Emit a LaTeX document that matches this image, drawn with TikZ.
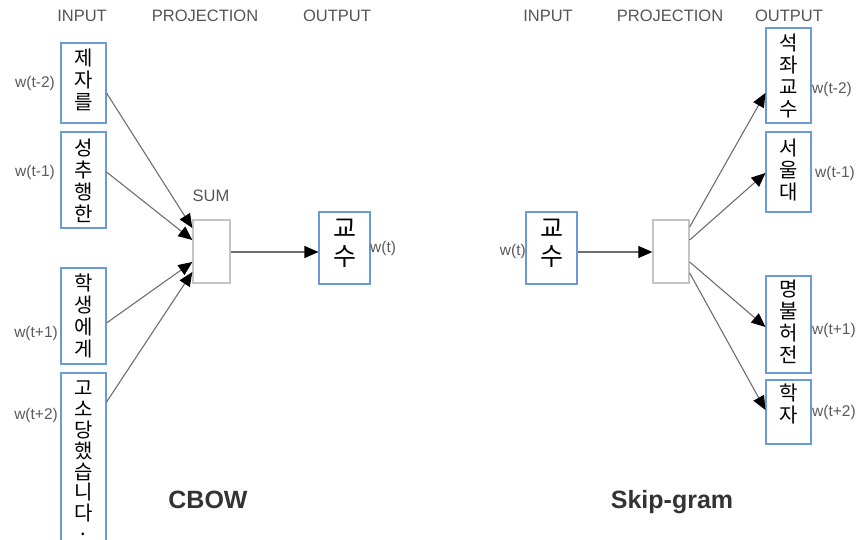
\documentclass[tikz,border=0pt]{standalone}
\usepackage{fontspec}
\setmainfont{Liberation Sans}
\newfontfamily\kr{Noto Sans CJK KR}
\usetikzlibrary{arrows.meta,calc}
\definecolor{boxblue}{HTML}{6A9BD8}
\definecolor{hdr}{HTML}{555555}
\definecolor{lblc}{HTML}{5A5A5A}
\definecolor{projc}{HTML}{C4C4C4}
\definecolor{linec}{HTML}{6E6E6E}
\tikzset{
  wbox/.style={draw=boxblue, line width=1.1pt, minimum width=45pt, inner sep=0pt},
  obox/.style={draw=boxblue, line width=1.1pt, minimum width=51pt, minimum height=72pt, inner sep=0pt},
  pbox/.style={draw=projc, line width=1.3pt, inner sep=0pt},
  ktxt/.style={font=\kr\fontsize{20}{22}\selectfont, align=center, inner sep=0pt, text=black},
  kbig/.style={font=\kr\fontsize{25}{28}\selectfont, align=center, inner sep=0pt, text=black},
  hdrtxt/.style={font=\fontsize{16.5}{18}\selectfont, text=hdr, inner sep=0pt},
  wlbl/.style={font=\fontsize{15.5}{17}\selectfont, text=lblc, inner sep=0pt},
  title/.style={font=\bfseries\fontsize{25}{28}\selectfont, text=black!80, inner sep=0pt},
  arr/.style={draw=linec, line width=1.1pt, -{Triangle[length=14pt,width=12pt,color=black]}}
}
\begin{document}
\begin{tikzpicture}[x=1pt,y=-1pt]
\useasboundingbox (0,0) rectangle (859,539);
\clip (0,0) rectangle (859,539);
% ---------- CBOW ----------
\node[hdrtxt] (h1) at (82,16) {INPUT};
\node[hdrtxt] (h2) at (205,16) {PROJECTION};
\node[hdrtxt] (h3) at (337,16) {OUTPUT};

\node[wbox, minimum height=80pt] (i1) at (83.5,83) {};
\node[ktxt] (i1t) at (83.5,80) {제\\자\\를};
\node[wbox, minimum height=96pt] (i2) at (83.5,180) {};
\node[ktxt] (i2t) at (83.5,181) {성\\추\\행\\한};
\node[wbox, minimum height=96pt] (i3) at (83.5,316) {};
\node[ktxt] (i3t) at (83.5,316) {학\\생\\에\\게};
\node[wbox, minimum height=197pt] (i4) at (83.5,471.5) {};
\node[ktxt, font=\kr\fontsize{20}{20.8}\selectfont, anchor=north] (i4t) at (83.5,381) {고\\소\\당\\했\\습\\니\\다\\[-6pt].};

\node[wlbl, anchor=east] (l1) at (55,83) {w(t-2)};
\node[wlbl, anchor=east] (l2) at (55,172) {w(t-1)};
\node[wlbl, anchor=east] (l3) at (58,333) {w(t+1)};
\node[wlbl, anchor=east] (l4) at (58,415) {w(t+2)};

\node[hdrtxt] (sumlbl) at (211,196) {SUM};
\node[pbox, minimum width=37pt, minimum height=63pt] (sum) at (211.5,251.5) {};

\node[obox] (o) at (344.5,248) {};
\node[kbig] (ot) at (344.5,243) {교\\수};
\node[wlbl, anchor=west] (lo) at (370,248) {w(t)};

\draw[arr] ($(i1.east)+(0,10)$) -- ($(sum.west)+(0,-23.5)$);
\draw[arr] ($(i2.east)+(0,-8)$) -- ($(sum.west)+(0,-11.5)$);
\draw[arr] ($(i3.east)+(0,7)$) -- ($(sum.west)+(0,10.5)$);
\draw[arr] ($(i4.east)+(0,-69.5)$) -- ($(sum.west)+(0,20.5)$);
\draw[arr] ($(sum.east)+(0,0.5)$) -- ($(o.west)+(0,4)$);

\node[title] (cbow) at (208,500) {CBOW};

% ---------- Skip-gram ----------
\node[hdrtxt] (g1) at (548,16) {INPUT};
\node[hdrtxt] (g2) at (670,16) {PROJECTION};
\node[hdrtxt] (g3) at (789,16) {OUTPUT};

\node[obox] (si) at (551.5,248) {};
\node[kbig] (sit) at (551.5,243) {교\\수};
\node[wlbl, anchor=east] (lsi) at (526,251) {w(t)};

\node[pbox, minimum width=36pt, minimum height=63pt] (sp) at (671,251.5) {};

\node[wbox, minimum height=95pt] (so1) at (788.5,75.5) {};
\node[ktxt] (so1t) at (788.5,76) {석\\좌\\교\\수};
\node[wbox, minimum height=80pt] (so2) at (788.5,172) {};
\node[ktxt] (so2t) at (788.5,170) {서\\울\\대};
\node[wbox, minimum height=97pt] (so3) at (788.5,324.5) {};
\node[ktxt] (so3t) at (788.5,322) {명\\불\\허\\전};
\node[wbox, minimum height=64pt] (so4) at (788.5,412) {};
\node[ktxt] (so4t) at (788.5,404) {학\\자};

\node[wlbl, anchor=west] (m1) at (812,89) {w(t-2)};
\node[wlbl, anchor=west] (m2) at (815,173) {w(t-1)};
\node[wlbl, anchor=west] (m3) at (812,330) {w(t+1)};
\node[wlbl, anchor=west] (m4) at (812,412) {w(t+2)};

\draw[arr] ($(si.east)+(0,4)$) -- ($(sp.west)+(0,0.5)$);
\draw[arr] ($(sp.east)+(0,-24.5)$) -- ($(so1.west)+(0,17.5)$);
\draw[arr] ($(sp.east)+(0,-11.5)$) -- ($(so2.west)+(0,1)$);
\draw[arr] ($(sp.east)+(0,10.5)$) -- ($(so3.west)+(0,2.5)$);
\draw[arr] ($(sp.east)+(0,21.5)$) -- ($(so4.west)+(0,-2)$);

\node[title] (skip) at (672,502) {Skip-gram};
\end{tikzpicture}
\end{document}
